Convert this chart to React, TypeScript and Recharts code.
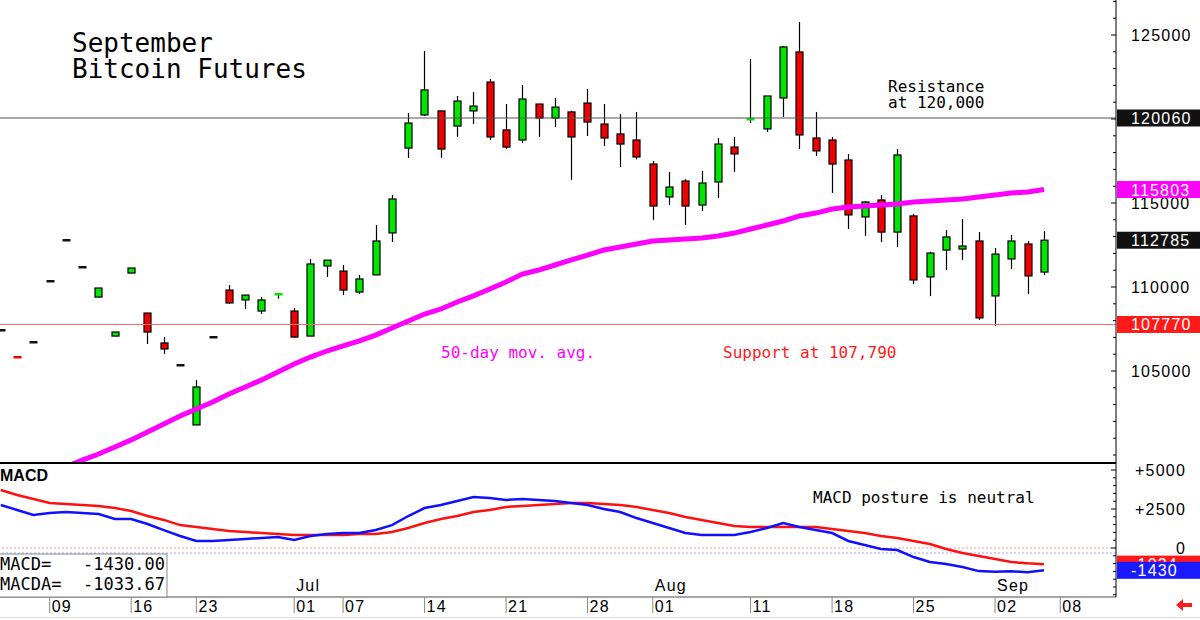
import React from "react";
import { ComposedChart, Bar, Line, XAxis, YAxis, ReferenceLine } from "recharts";

// trading days, Jun 4 .. Sep 5
const days = [
  "06-04", "06-05", "06-06", "06-09", "06-10", "06-11", "06-12", "06-13",
  "06-16", "06-17", "06-18", "06-20", "06-23", "06-24", "06-25", "06-26",
  "06-27", "06-30", "07-01", "07-02", "07-03", "07-07", "07-08", "07-09",
  "07-10", "07-11", "07-14", "07-15", "07-16", "07-17", "07-18", "07-21",
  "07-22", "07-23", "07-24", "07-25", "07-28", "07-29", "07-30", "07-31",
  "08-01", "08-04", "08-05", "08-06", "08-07", "08-08", "08-11", "08-12",
  "08-13", "08-14", "08-15", "08-18", "08-19", "08-20", "08-21", "08-22",
  "08-25", "08-26", "08-27", "08-28", "08-29", "09-02", "09-03", "09-04",
  "09-05",
];

const opens = [
  107440, 105850, 106730, 110360, 112800, 111190, 109400, 107080, 110830, 108450,
  106670, 105360, 101790, 107020, 109820, 109230, 108570, 109560, 108570, 107080,
  111250, 110950, 109700, 110720, 113220, 118270, 120240, 120480, 119580, 120480,
  122200, 119350, 118750, 120890, 120060, 120420, 120950, 119700, 119110, 118750,
  117320, 115360, 116310, 114880, 116250, 118330, 119940, 119410, 121250, 123990,
  118870, 118750, 117560, 114170, 115180, 113270, 114230, 110600, 112200, 112260,
  112740, 109470, 111670, 112560, 110890,
];
const highs = [
  107450, 105860, 106740, 110370, 112810, 111200, 109950, 107330, 111140, 108460,
  107020, 105370, 104470, 107030, 110120, 109530, 109410, 109620, 108750, 111670,
  111610, 111310, 110720, 113690, 115480, 120360, 124050, 120490, 121370, 121610,
  122380, 120890, 122020, 120900, 121250, 120500, 121790, 120890, 120300, 120420,
  117500, 116850, 116430, 116910, 118870, 118930, 123570, 121370, 124350, 125770,
  120420, 118930, 117920, 115120, 115480, 118210, 114350, 112100, 113390, 114050,
  113270, 112320, 113100, 112740, 113330,
];
const lows = [
  107430, 105810, 106720, 110350, 112790, 111180, 109390, 107070, 110820, 106610,
  106010, 105350, 101780, 107010, 108990, 108690, 108390, 109300, 107000, 107070,
  110600, 109520, 109580, 110710, 112680, 117680, 120180, 117680, 118930, 119700,
  118750, 118210, 118570, 118930, 119520, 116370, 118990, 118390, 117140, 117600,
  113990, 114880, 113690, 114520, 115300, 116850, 119760, 119230, 120120, 118210,
  117800, 115600, 113450, 113040, 112680, 112380, 110180, 109460, 111010, 111610,
  108040, 107680, 111070, 109580, 110710,
];
const closes = [
  107440, 105820, 106730, 110360, 112800, 111190, 109940, 107320, 111130, 107320,
  106310, 105360, 104050, 107020, 109050, 109520, 109230, 109600, 107020, 111370,
  111600, 109820, 110480, 112740, 115240, 119760, 121730, 118210, 121070, 120770,
  118930, 118330, 121190, 120060, 120710, 118930, 119820, 118870, 118510, 117740,
  114820, 115950, 114820, 116190, 118510, 117920, 120000, 121370, 124290, 119050,
  118100, 117320, 114290, 115060, 113270, 117860, 110420, 112020, 112980, 112440,
  108160, 111960, 112740, 110660, 112785,
];
const ma50 = [
  null, null, null, null, 99300, 99700, 100060, 100480, 100900, 101370,
  101850, 102320, 102740, 103160, 103630, 104050, 104470, 104940, 105420, 105830,
  106190, 106490, 106790, 107140, 107560, 107980, 108390, 108690, 109110, 109470,
  109880, 110300, 110770, 111010, 111310, 111610, 111900, 112200, 112380, 112560,
  112740, 112800, 112860, 112920, 113040, 113210, 113450, 113690, 113930, 114230,
  114400, 114640, 114760, 114820, 114880, 114940, 115060, 115120, 115180, 115240,
  115360, 115480, 115600, 115660, 115803,
];
const macd = [
  2760, 2440, 2120, 2240, 2310, 2240, 2180, 1860, 1860, 1540,
  1150, 770, 450, 450, 510, 580, 640, 710, 510, 770,
  900, 960, 960, 1150, 1470, 2050, 2560, 2760, 3010, 3270,
  3210, 3080, 3140, 3080, 3010, 2880, 2760, 2500, 2310, 1920,
  1600, 1280, 960, 830, 830, 830, 1030, 1280, 1600, 1350,
  1150, 960, 450, 190, -60, -130, -580, -900, -1030, -1220,
  -1480, -1530, -1490, -1560, -1430,
];
const signal = [
  3720, 3400, 3140, 2890, 2820, 2760, 2690, 2560, 2370, 2050,
  1800, 1470, 1350, 1220, 1090, 1030, 960, 900, 830, 830,
  830, 830, 900, 900, 1030, 1280, 1600, 1860, 2050, 2310,
  2440, 2630, 2690, 2760, 2820, 2880, 2880, 2820, 2760, 2630,
  2440, 2240, 1990, 1800, 1600, 1410, 1350, 1350, 1350, 1350,
  1350, 1220, 1090, 960, 770, 640, 450, 260, -60, -320,
  -510, -710, -900, -980, -1034,
];

// week separators on the date row (index into days, 65 = Sep 8)
const weekTicks = [
  { i: 3, label: "09" }, { i: 8, label: "16" }, { i: 12, label: "23" },
  { i: 18, label: "01", month: "Jul" }, { i: 21, label: "07" },
  { i: 26, label: "14" }, { i: 31, label: "21" }, { i: 36, label: "28" },
  { i: 40, label: "01", month: "Aug" }, { i: 46, label: "11" },
  { i: 51, label: "18" }, { i: 56, label: "25" },
  { i: 61, label: "02", month: "Sep" }, { i: 65, label: "08" },
];

const priceLabels = [105000, 110000, 115000, 120000, 125000];
const priceBadges = [
  { value: 120060, color: "#111111" },
  { value: 115803, color: "#ff00ff" },
  { value: 112785, color: "#111111" },
  { value: 107770, color: "#ff1a1a" },
];
const macdLabels = [
  { value: 5000, text: "+5000" },
  { value: 2500, text: "+2500" },
  { value: 0, text: "0" },
];
const macdBadges = [
  { value: -1034, color: "#ff1a1a" },
  { value: -1430, color: "#1a1aff" },
];

const rows = opens.map((o, i) => ({
  i,
  date: days[i],
  open: o,
  high: highs[i],
  low: lows[i],
  close: closes[i],
  ma: ma50[i],
  macd: macd[i],
  signal: signal[i],
}));

const X_DOMAIN: [number, number] = [-0.049, 68.42];
const PRICE_DOMAIN: [number, number] = [99525, 127083];
const MACD_DOMAIN: [number, number] = [-3141, 5449];

const minorPrice = Array.from({ length: 28 }, (_, k) => 100000 + k * 1000);
const minorMacd = Array.from({ length: 17 }, (_, k) => -3000 + k * 500);

const AXIS_FONT = "'Liberation Sans', Arial, sans-serif";
const NOTE_FONT = "'DejaVu Sans Mono', monospace";

function Badge({ x, y, text, color }: any) {
  return (
    <g>
      <rect x={x + 1} y={y - 8.5} width={84} height={17} fill={color} />
      <text x={x + 15} y={y + 6} fill="#fff" fontSize={16} fontFamily={AXIS_FONT} letterSpacing={1.2}>
        {text}
      </text>
    </g>
  );
}

function PriceTick(props: any) {
  const { x, y, payload } = props;
  const v = payload.value;
  const b = priceBadges.find((p) => p.value === v);
  if (b) return <Badge x={x} y={y} text={String(v)} color={b.color} />;
  const labeled = priceLabels.includes(v);
  return (
    <g>
      <line x1={x - (labeled ? 5 : 3)} x2={x} y1={y} y2={y} stroke="#000" />
      {labeled && (
        <text x={x + 15} y={y + 6} fontSize={16} fontFamily={AXIS_FONT} letterSpacing={1.2} fill="#000">
          {v}
        </text>
      )}
    </g>
  );
}

function MacdTick(props: any) {
  const { x, y, payload } = props;
  const v = payload.value;
  const b = macdBadges.find((p) => p.value === v);
  if (b) return <Badge x={x} y={y} text={String(v)} color={b.color} />;
  const lab = macdLabels.find((p) => p.value === v);
  return (
    <g>
      <line x1={x - (lab ? 5 : 3)} x2={x} y1={y} y2={y} stroke="#000" />
      {lab && (
        <text x={x + 70} y={y + 6} textAnchor="end" fontSize={16} fontFamily={AXIS_FONT} letterSpacing={1.2} fill="#000">
          {lab.text}
        </text>
      )}
    </g>
  );
}

function DateTick(props: any) {
  const { x, y, payload } = props;
  const t = weekTicks.find((w) => w.i === payload.value);
  if (!t) return null;
  return (
    <g>
      <line x1={x} x2={x} y1={y} y2={y + 16} stroke="#888" />
      <text x={x + 2} y={y + 15} fontSize={16} fontFamily={AXIS_FONT} letterSpacing={1.2} fill="#000">
        {t.label}
      </text>
      {t.month && (
        <text x={x + 2} y={y - 6} fontSize={16} fontFamily={AXIS_FONT} letterSpacing={1.2} fill="#000">
          {t.month}
        </text>
      )}
    </g>
  );
}

function Candle(props: any) {
  const { x, y, width, height, payload } = props;
  if (x == null || y == null || !payload) return null;
  const { open, close, high, low } = payload;
  const cx = Math.round(x + width / 2) + 0.5;
  const h = Math.abs(height);
  const top = height >= 0 ? y : y + height;
  const k = high > low ? h / (high - low) : 0;
  const py = (v: number) => top + (high - v) * k;
  const bTop = py(Math.max(open, close));
  const bBot = py(Math.min(open, close));
  const color = close > open ? "#00e600" : close < open ? "#f00000" : "#111";
  const bh = bBot - bTop;
  if (bh < 2) {
    return (
      <g>
        {h > 3 && <line x1={cx} x2={cx} y1={top} y2={top + h} stroke="#000" strokeWidth={1.2} />}
        <rect x={cx - 4} y={Math.round(bTop) - 1} width={8} height={2.5} fill={color} />
      </g>
    );
  }
  return (
    <g>
      <line x1={cx} x2={cx} y1={top} y2={top + h} stroke="#000" strokeWidth={1.2} />
      <rect x={cx - 3.5} y={bTop} width={7} height={bh} fill={color} stroke="#000" strokeWidth={1.2} />
    </g>
  );
}

export default function App() {
  return (
    <div style={{ position: "absolute", left: 0, top: 0, width: 1200, height: 620, background: "#fff", overflow: "hidden" }}>
      <div style={{ position: "absolute", left: 0, top: 0 }}>
        <ComposedChart width={1200} height={464} data={rows} margin={{ top: 0, right: 0, left: 0, bottom: 0 }}>
          <XAxis
            dataKey="i"
            type="number"
            domain={X_DOMAIN}
            allowDataOverflow
            height={1}
            tick={false}
            tickLine={false}
            axisLine={{ stroke: "#000", strokeWidth: 2 }}
          />
          <YAxis
            orientation="right"
            width={84}
            domain={PRICE_DOMAIN}
            allowDataOverflow
            ticks={[...minorPrice, ...priceBadges.map((b) => b.value)]}
            interval={0}
            tickSize={0}
            tickMargin={0}
            tickLine={false}
            axisLine={{ stroke: "#000" }}
            tick={<PriceTick />}
          />
          <ReferenceLine y={120060} stroke="#555" strokeWidth={1.2} />
          <ReferenceLine y={107770} stroke="#ff6a6a" strokeWidth={1.2} />
          <Line
            dataKey="ma"
            type="linear"
            stroke="#ff00ff"
            strokeWidth={5}
            dot={false}
            activeDot={false}
            isAnimationActive={false}
          />
          <Bar
            dataKey={(d: any) => [d.low, d.high]}
            barSize={8}
            shape={<Candle />}
            isAnimationActive={false}
          />
        </ComposedChart>
      </div>
      <div style={{ position: "absolute", left: 0, top: 463 }}>
        <ComposedChart width={1200} height={157} data={rows} margin={{ top: 0, right: 0, left: 0, bottom: 0 }}>
          <XAxis
            dataKey="i"
            type="number"
            domain={X_DOMAIN}
            allowDataOverflow
            height={23}
            ticks={weekTicks.map((w) => w.i)}
            interval={0}
            tickSize={0}
            tickMargin={0}
            tickLine={false}
            axisLine={{ stroke: "#888", strokeWidth: 1.5 }}
            tick={<DateTick />}
          />
          <YAxis
            orientation="right"
            width={84}
            domain={MACD_DOMAIN}
            allowDataOverflow
            ticks={[...minorMacd, ...macdBadges.map((b) => b.value)]}
            interval={0}
            tickSize={0}
            tickMargin={0}
            tickLine={false}
            axisLine={{ stroke: "#000" }}
            tick={<MacdTick />}
          />
          <ReferenceLine y={0} stroke="#ff9a9a" strokeDasharray="2 2" />
          <ReferenceLine y={-320} stroke="#a0a0ff" strokeDasharray="2 2" />
          <Line dataKey="signal" type="linear" stroke="#ff1010" strokeWidth={2.5} dot={false} activeDot={false} isAnimationActive={false} />
          <Line dataKey="macd" type="linear" stroke="#1010ff" strokeWidth={2.5} dot={false} activeDot={false} isAnimationActive={false} />
        </ComposedChart>
      </div>
      <svg width={1200} height={620} style={{ position: "absolute", left: 0, top: 0, pointerEvents: "none" }}>
        <text x={72} y={52} fontSize={26} fontFamily={NOTE_FONT} fill="#000">September</text>
        <text x={72} y={78} fontSize={26} fontFamily={NOTE_FONT} fill="#000">Bitcoin Futures</text>
        <text x={888} y={92} fontSize={16} fontFamily={NOTE_FONT} fill="#000">Resistance</text>
        <text x={888} y={108} fontSize={16} fontFamily={NOTE_FONT} fill="#000">at 120,000</text>
        <text x={441} y={358} fontSize={16} fontFamily={NOTE_FONT} fill="#ff00ff">50-day mov. avg.</text>
        <text x={723} y={358} fontSize={16} fontFamily={NOTE_FONT} fill="#ff1a1a">Support at 107,790</text>
        <text x={813} y={503} fontSize={16} fontFamily={NOTE_FONT} fill="#000">MACD posture is neutral</text>
        <text x={0} y={481} fontSize={16} fontWeight="bold" fontFamily={AXIS_FONT} fill="#000">MACD</text>
        <rect x={-1} y={554} width={168} height={43} fill="#fff" stroke="#888" />
        <text x={0} y={570} fontSize={17} fontFamily={NOTE_FONT} fill="#000">MACD=</text>
        <text x={165} y={570} textAnchor="end" fontSize={17} fontFamily={NOTE_FONT} fill="#000">-1430.00</text>
        <text x={0} y={590} fontSize={17} fontFamily={NOTE_FONT} fill="#000">MACDA=</text>
        <text x={165} y={590} textAnchor="end" fontSize={17} fontFamily={NOTE_FONT} fill="#000">-1033.67</text>
        <line x1={0} x2={1200} y1={617.5} y2={617.5} stroke="#ddd" />
        <polygon points="1176,605 1183,599 1183,603 1192,603 1192,607 1183,607 1183,611" fill="#ff1a1a" />
      </svg>
    </div>
  );
}
